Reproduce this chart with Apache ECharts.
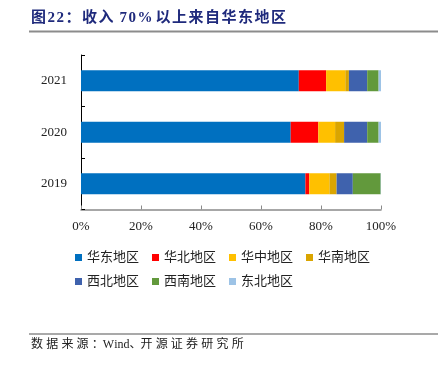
<!DOCTYPE html>
<html>
<head>
<meta charset="utf-8">
<script src="https://cdn.jsdelivr.net/npm/echarts@6/dist/echarts.min.js"></script>
<style>html,body{margin:0;padding:0;background:#fff;}#c{width:438px;height:365px;}</style>
</head>
<body>
<div id="c"></div>
<script>
var categories = ['2019', '2020', '2021'];
var seriesNames = ['华东地区', '华北地区', '华中地区', '华南地区', '西北地区', '西南地区', '东北地区'];
var east = [74.8, 69.9, 72.6];
var north = [1.3, 9.2, 9.1];
var central = [6.7, 5.6, 6.4];
var south = [2.4, 3.0, 1.2];
var northwest = [5.4, 7.7, 6.1];
var southwest = [9.3, 3.8, 3.8];
var northeast = [0.1, 0.8, 0.8];
var xTicks = [0, 20, 40, 60, 80, 100];
var titleText = '图22：收入 70%以上来自华东地区';
var sourceText = '数据来源：Wind、开源证券研究所';

var colors = ['#0070C0', '#FF0000', '#FFC000', '#DAA500', '#3F62AD', '#62993C', '#9DC3E6'];
var values = [east, north, central, south, northwest, southwest, northeast];

var serif = '"Liberation Serif", "Times New Roman", "Noto Sans CJK SC", serif';
var cjk = '"Liberation Serif", "Noto Sans CJK SC", sans-serif';

// lay out a string char by char with a wider pitch for CJK glyphs (spaced typesetting)
function spacedText(str, x0, y, font, fill, cjkPitch, latinScale, punctPitch) {
  var ctx = document.createElement('canvas').getContext('2d');
  ctx.font = font;
  var out = [];
  var x = x0;
  for (var i = 0; i < str.length; i++) {
    var ch = str[i];
    var isPunct = /[\uff1a\u3001]/.test(ch);
    var isCjk = /[\u3000-\u9fff\uff00-\uffef]/.test(ch);
    out.push({type: 'text', x: x, y: y, style: {text: ch, font: font, fill: fill, textVerticalAlign: 'middle'}});
    x += isPunct ? punctPitch : (isCjk ? cjkPitch : ctx.measureText(ch).width * latinScale);
  }
  return out;
}

var chart = echarts.init(document.getElementById('c'), null, {renderer: 'canvas'});
var series = seriesNames.map(function (n, i) {
  return {
    name: n, type: 'bar', stack: 'total', barWidth: 21,
    itemStyle: {color: colors[i]},
    data: values[i]
  };
});
var graphics = [
  {type: 'rect', shape: {x: 29, y: 30.5, width: 409, height: 2}, style: {fill: '#8c8c8c'}},
  {type: 'rect', shape: {x: 29, y: 333.5, width: 409, height: 1}, style: {fill: '#555'}}
].concat(
  spacedText(titleText, 31, 18, 'bold 15px ' + cjk, '#1F2A7C', 16.5, 1.2, 16.5),
  spacedText(sourceText, 31, 345, '12px ' + cjk, '#222', 15.2, 1.0, 11)
);
chart.setOption({
  animation: false,
  color: colors,
  grid: {left: 81, right: 57, top: 55, bottom: 155.5},
  xAxis: {
    type: 'value', min: xTicks[0], max: xTicks[xTicks.length - 1], interval: 20,
    splitLine: {show: false},
    axisLine: {show: true, lineStyle: {color: '#8a8a8a', width: 1.5}},
    axisTick: {show: true, inside: true, length: 4, lineStyle: {color: '#8a8a8a'}},
    axisLabel: {formatter: '{value}%', fontFamily: serif, fontSize: 13, color: '#222', margin: 11}
  },
  yAxis: {
    type: 'category', data: categories,
    axisLine: {show: true, lineStyle: {color: '#000', width: 1}},
    axisTick: {show: true, inside: true, length: 4, lineStyle: {color: '#000'}},
    axisLabel: {fontFamily: serif, fontSize: 13, color: '#222', margin: 14}
  },
  legend: [{
    data: seriesNames.slice(0, 4), left: 75, top: 251, padding: 0,
    itemWidth: 7, itemHeight: 7, itemGap: 13, icon: 'rect',
    textStyle: {fontFamily: cjk, fontSize: 13, color: '#222'}
  }, {
    data: seriesNames.slice(4), left: 75, top: 275, padding: 0,
    itemWidth: 7, itemHeight: 7, itemGap: 13, icon: 'rect',
    textStyle: {fontFamily: cjk, fontSize: 13, color: '#222'}
  }],
  graphic: graphics,
  series: series
});
</script>
</body>
</html>
